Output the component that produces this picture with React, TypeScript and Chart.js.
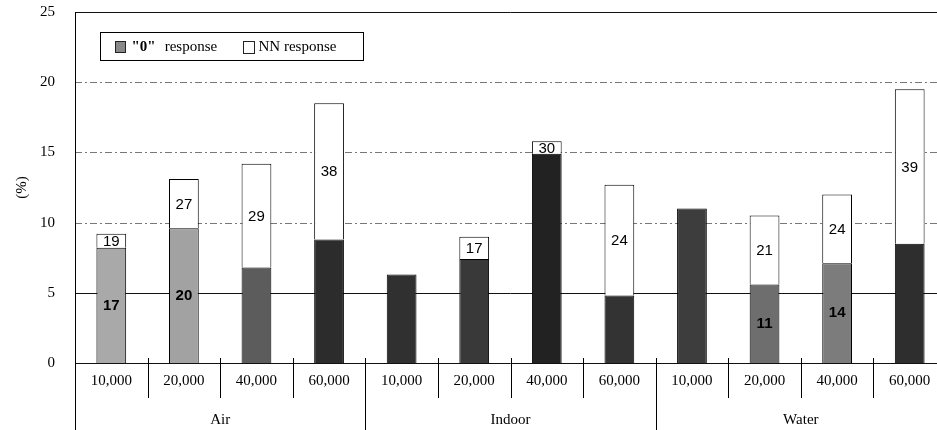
import React, { useEffect, useRef } from "react";
import { Chart, registerables } from "chart.js";

Chart.register(...registerables);

const groups = ["Air", "Indoor", "Water"];
const sizes = ["10,000", "20,000", "40,000", "60,000"];
const categories = groups.flatMap((g) => sizes.map((s) => `${g} ${s}`));
const zeroValues = [8.2, 9.6, 6.8, 8.8, 6.3, 7.4, 14.9, 4.8, 11.0, 5.6, 7.1, 8.5];
const nnValues = [1.0, 3.5, 7.4, 9.7, null, 1.6, 0.9, 7.9, null, 4.9, 4.9, 11.0];
const zeroLabels = ["17", "20", null, null, null, null, null, null, null, "11", "14", null];
const nnLabels = ["19", "27", "29", "38", null, "17", "30", "24", null, "21", "24", "39"];
const zeroColors = [
  "#a9a9a9", "#a2a2a2", "#5c5c5c", "#2c2c2c",
  "#303030", "#393939", "#222222", "#333333",
  "#3d3d3d", "#6e6e6e", "#7c7c7c", "#2e2e2e",
];
const yTicks = [0, 5, 10, 15, 20, 25];
const legendLabels = ['"0"', "response", "NN response"];

const SERIF = "'Liberation Serif', 'Times New Roman', serif";
const SANS = "'Liberation Sans', Arial, sans-serif";

const decorPlugin = {
  id: "decor",
  beforeDatasetsDraw(chart: any) {
    const { ctx, chartArea, scales } = chart;
    const y = scales.y;
    ctx.save();
    yTicks.forEach((v) => {
      const py = Math.round(y.getPixelForValue(v)) + 0.5;
      ctx.beginPath();
      if (v === 0 || v === 5 || v === 25) {
        ctx.setLineDash([]);
        ctx.strokeStyle = "#111";
      } else {
        ctx.setLineDash([7, 3, 2, 3]);
        ctx.strokeStyle = "#777";
      }
      ctx.lineWidth = 1;
      ctx.moveTo(chartArea.left, py);
      ctx.lineTo(chartArea.right, py);
      ctx.stroke();
    });
    ctx.restore();
  },
  afterDatasetsDraw(chart: any) {
    const { ctx, chartArea, scales } = chart;
    const x = scales.x;
    const y = scales.y;
    const n = categories.length;
    const step = (chartArea.right - chartArea.left) / n;
    const bottom = chartArea.bottom;
    ctx.save();
    // bar labels
    ctx.textAlign = "center";
    ctx.textBaseline = "middle";
    ctx.fillStyle = "#000";
    for (let i = 0; i < n; i++) {
      const cx = x.getPixelForValue(i);
      const z = zeroValues[i];
      const nn = nnValues[i];
      if (zeroLabels[i]) {
        ctx.font = `bold 15px ${SANS}`;
        ctx.fillText(zeroLabels[i], cx, (y.getPixelForValue(0) + y.getPixelForValue(z)) / 2);
      }
      if (nnLabels[i] && nn != null) {
        ctx.font = `15px ${SANS}`;
        ctx.fillText(nnLabels[i], cx, (y.getPixelForValue(z) + y.getPixelForValue(z + nn)) / 2 + 1);
      }
    }
    // left axis line extended
    ctx.strokeStyle = "#000";
    ctx.lineWidth = 1;
    ctx.setLineDash([]);
    ctx.beginPath();
    const lx = Math.round(chartArea.left) + 0.5;
    ctx.moveTo(lx, chartArea.top);
    ctx.lineTo(lx, chart.height);
    ctx.stroke();
    // separators
    for (let i = 1; i <= n; i++) {
      const sx = Math.round(chartArea.left + i * step) + 0.5;
      ctx.beginPath();
      if (i % 4 === 0) {
        ctx.moveTo(sx, bottom - 5);
        ctx.lineTo(sx, chart.height);
      } else {
        ctx.moveTo(sx, bottom - 5);
        ctx.lineTo(sx, bottom + 35);
      }
      ctx.stroke();
    }
    // x labels
    ctx.font = `15px ${SERIF}`;
    ctx.textBaseline = "middle";
    for (let i = 0; i < n; i++) {
      ctx.fillText(sizes[i % 4], x.getPixelForValue(i), bottom + 18);
    }
    groups.forEach((g, gi) => {
      const cx = chartArea.left + (gi * 4 + 2) * step;
      ctx.fillText(g, cx, bottom + 57);
    });
    // legend
    const bx = chartArea.left + 25.5;
    const by = chartArea.top + 20.5;
    ctx.fillStyle = "#fff";
    ctx.fillRect(bx, by, 263, 28);
    ctx.strokeStyle = "#000";
    ctx.strokeRect(bx, by, 263, 28);
    ctx.fillStyle = "#888";
    ctx.fillRect(bx + 15, by + 9, 10, 11);
    ctx.strokeStyle = "#222";
    ctx.strokeRect(bx + 15, by + 9, 10, 11);
    ctx.fillStyle = "#000";
    ctx.textAlign = "left";
    ctx.font = `bold 15px ${SERIF}`;
    ctx.fillText(legendLabels[0], bx + 31, by + 15);
    const w0 = ctx.measureText(legendLabels[0]).width;
    ctx.font = `15px ${SERIF}`;
    ctx.fillText(legendLabels[1], bx + 31 + w0 + 9, by + 15);
    ctx.fillStyle = "#fff";
    ctx.fillRect(bx + 143, by + 9, 11, 12);
    ctx.strokeStyle = "#222";
    ctx.strokeRect(bx + 143, by + 9, 11, 12);
    ctx.fillStyle = "#000";
    ctx.fillText(legendLabels[2], bx + 158, by + 15);
    ctx.restore();
  },
};

export default function App() {
  const ref = useRef<HTMLCanvasElement>(null);
  useEffect(() => {
    document.body.style.margin = "0";
    document.body.style.overflow = "hidden";
    const chart = new Chart(ref.current!, {
      type: "bar",
      data: {
        labels: categories,
        datasets: [
          {
            label: '"0" response',
            data: zeroValues,
            backgroundColor: zeroColors,
            borderColor: "#000",
            borderWidth: 1,
            barPercentage: 0.41,
            categoryPercentage: 1,
          },
          {
            label: "NN response",
            data: nnValues as any,
            backgroundColor: "#fff",
            borderColor: "#000",
            borderWidth: 1,
            barPercentage: 0.41,
            categoryPercentage: 1,
          },
        ],
      },
      options: {
        animation: false,
        responsive: false,
        maintainAspectRatio: false,
        layout: { padding: { top: 12, right: 14, bottom: 67, left: 0 } },
        plugins: { legend: { display: false }, tooltip: { enabled: false } },
        scales: {
          x: { stacked: true, display: false },
          y: {
            stacked: true,
            min: 0,
            max: 25,
            afterBuildTicks: (s: any) => {
              s.ticks = yTicks.map((v) => ({ value: v }));
            },
            afterFit: (s: any) => {
              s.width = 75;
              s.paddingTop = 0;
              s.paddingBottom = 0;
            },
            grid: { display: false, drawTicks: false },
            border: { display: false },
            ticks: {
              color: "#000",
              font: { family: SERIF, size: 15 },
              padding: 20,
            },
            title: {
              display: true,
              text: "(%)",
              color: "#000",
              font: { family: SERIF, size: 15 },
              padding: { top: 13, bottom: 0 },
            },
          },
        },
      },
      plugins: [decorPlugin],
    });
    return () => chart.destroy();
  }, []);
  return (
    <div style={{ width: 937, height: 430, overflow: "hidden", position: "relative" }}>
      <canvas ref={ref} width={960} height={430} style={{ display: "block" }} />
    </div>
  );
}
